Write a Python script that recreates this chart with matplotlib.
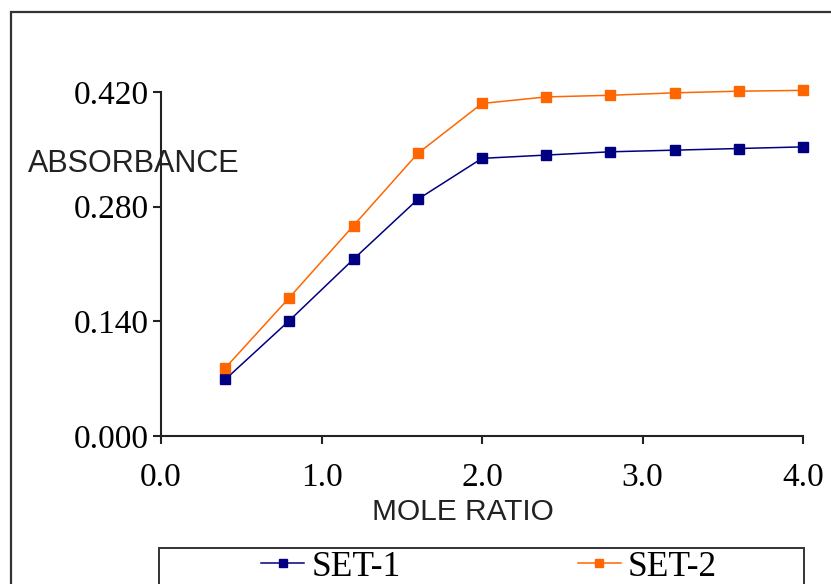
import matplotlib
matplotlib.use("Agg")
import matplotlib.pyplot as plt
from matplotlib.patches import Rectangle

mole_ratio = [0.4, 0.8, 1.2, 1.6, 2.0, 2.4, 2.8, 3.2, 3.6, 4.0]
set1 = [0.069, 0.141, 0.216, 0.289, 0.339, 0.343, 0.347, 0.349, 0.351, 0.353]
set2 = [0.083, 0.169, 0.257, 0.345, 0.406, 0.414, 0.416, 0.419, 0.421, 0.422]
xticks = [0.0, 1.0, 2.0, 3.0, 4.0]
xticklabels = ["0.0", "1.0", "2.0", "3.0", "4.0"]
yticks = [0.000, 0.140, 0.280, 0.420]
yticklabels = ["0.000", "0.140", "0.280", "0.420"]

W, H = 831, 584
fig = plt.figure(figsize=(W / 100, H / 100), dpi=100)

def fx(px):
    return px / W

def fy(py):
    return 1 - py / H

ax = fig.add_axes([fx(161), fy(436), fx(803) - fx(161), fy(92) - fy(436)])
ax.plot(mole_ratio, set1, color="#000080", lw=1.1, marker="s", ms=6.8,
        mec="#000080", mfc="#000080", label="SET-1", clip_on=False)
ax.plot(mole_ratio, set2, color="#FF6600", lw=1.1, marker="s", ms=6.8,
        mec="#FF6600", mfc="#FF6600", label="SET-2", clip_on=False)

ax.set_xlim(0, 4.0)
ax.set_ylim(0, 0.42)
for s in ["top", "right"]:
    ax.spines[s].set_visible(False)
for s in ["left", "bottom"]:
    ax.spines[s].set_linewidth(1.5)
    ax.spines[s].set_color("#222222")

serif = "Liberation Serif"
ax.set_xticks(xticks)
ax.set_xticklabels(xticklabels, fontfamily=serif, fontsize=24)
ax.set_yticks(yticks)
ax.set_yticklabels(yticklabels, fontfamily=serif, fontsize=24)
ax.tick_params(axis="x", direction="out", length=6, width=1.5, pad=13, color="#222222")
ax.tick_params(axis="y", direction="out", length=6, width=1.5, pad=2.5, color="#222222")

fig.text(fx(134), fy(164), "ABSORBANCE", fontfamily="Liberation Sans", fontsize=22,
         ha="center", va="center", color="#222222")
fig.text(fx(463), fy(512), "MOLE RATIO", fontfamily="Liberation Sans", fontsize=21.5,
         ha="center", va="center", color="#222222")

# outer border
fig.patches.append(Rectangle((fx(11), -0.1), 1.2, fy(12) + 0.1, transform=fig.transFigure,
                             fill=False, edgecolor="#333333", lw=1.6))
# legend box
fig.patches.append(Rectangle((fx(159), -0.1), fx(804) - fx(159), fy(548) + 0.1,
                             transform=fig.transFigure, fill=False, edgecolor="#333333", lw=1.4))

leg = fig.legend(loc="center left", bbox_to_anchor=(fx(261), fy(567)), ncol=2, frameon=False,
                 prop={"family": serif, "size": 25.5}, handlelength=1.22, handletextpad=0.2,
                 columnspacing=5.0, markerscale=0.8, borderpad=0, borderaxespad=0)

fig.savefig("out.png", dpi=100)
